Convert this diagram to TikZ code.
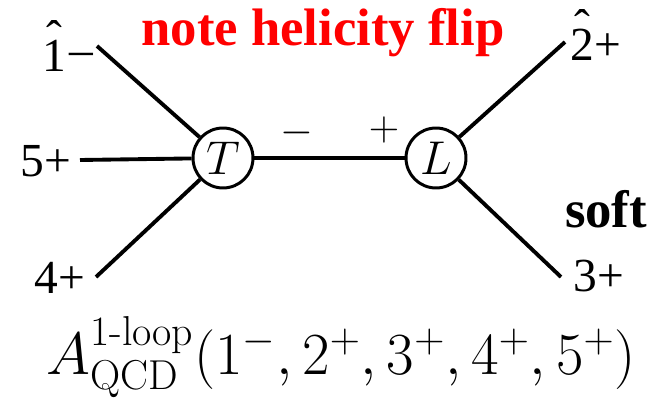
\RequirePackage{fix-cm}
\documentclass[tikz,border=0pt]{standalone}
\usepackage{fontspec}
\setmainfont{Liberation Serif}
\newfontfamily\lmfont{Latin Modern Roman}
\usepackage{amsmath}
\usepackage{tikz}
\usepackage[compat=1.1.0]{tikz-feynman}

\newcommand{\hatlabel}[1]{\ooalign{#1\cr\hidewidth\raisebox{0.40em}{ˆ}\hidewidth\cr}}

\tikzset{
  amp/.style={circle, draw, line width=1.7pt, fill=white, minimum size=1.2cm, inner sep=0pt, font=\fontsize{27}{30}\selectfont},
  leg/.style={font=\fontsize{27}{30}\selectfont, anchor=base, inner sep=0pt},
  hel/.style={font=\fontsize{24}{28}\selectfont, inner sep=0pt},
  remark/.style={font=\fontsize{30}{34}\selectfont\bfseries, anchor=base, inner sep=0pt},
}

\begin{document}
\begin{tikzpicture}[x=0.02cm, y=-0.02cm]
\useasboundingbox (0,0) rectangle (662,398);
\begin{feynman}
  % external legs
  \vertex at (97, 46) (p1);
  \vertex at (80, 160) (p5);
  \vertex at (96, 277) (p4);
  \vertex at (565, 42) (p2);
  \vertex at (561, 277) (p3);
  % tree and loop blobs
  \vertex [amp] at (223, 158) (T) {\(T\)};
  \vertex [amp] at (436, 158) (L) {\(L\)};
  \diagram* [line width=2.2pt] {
    (p1) -- (T),
    (p5) -- (T),
    (p4) -- (T),
    (T) -- (L),
    (L) -- (p2),
    (L) -- (p3),
  };
\end{feynman}
\node [leg] (l1) at (68, 72) {\hatlabel{1}\kern2pt\raisebox{0.14em}{–}};
\node [leg] (l5) at (46, 177) {5+};
\node [leg] (l4) at (60, 294) {4+};
\node [leg] (l2) at (596, 61) {\hatlabel{2}+};
\node [leg] (l3) at (599, 292) {3+};
\node [hel] (hm) at (297, 133) {\(-\)};
\node [hel] (hp) at (384, 130) {\(+\)};
\node [remark, text=red] (flip) at (323, 46) {note helicity flip};
\node [remark] (soft) at (606, 228) {soft};
\node [font=\fontsize{34}{40}\selectfont, anchor=base] (amp) at (341, 374)
  {\(A^{\text{\lmfont 1-loop}}_{\text{\lmfont QCD}}(1^-,2^+,3^+,4^+,5^+)\)};
\end{tikzpicture}
\end{document}
